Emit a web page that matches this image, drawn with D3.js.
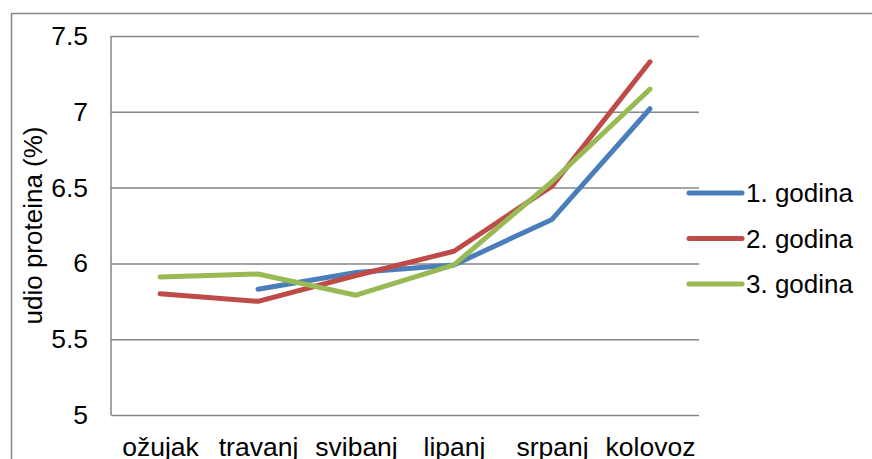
<!DOCTYPE html>
<html>
<head>
<meta charset="utf-8">
<script src="https://cdn.jsdelivr.net/npm/d3@7"></script>
<style>
  body { margin: 0; background: #fff; }
  svg { display: block; font-family: "Liberation Sans", Arial, sans-serif; }
  .grid line { stroke: #868686; stroke-width: 1.5; }
  .tick text { fill: #000; font-size: 26.5px; }
</style>
</head>
<body>
<div id="chart"></div>
<script>
// months on the x axis
const months = ["ožujak", "travanj", "svibanj", "lipanj", "srpanj", "kolovoz"];
// protein share per year (%), null = no value
const year1 = [null, 5.83, 5.94, 5.99, 6.29, 7.02];
const year2 = [5.80, 5.75, 5.92, 6.08, 6.51, 7.33];
const year3 = [5.91, 5.93, 5.79, 5.99, 6.54, 7.15];
const seriesNames = ["1. godina", "2. godina", "3. godina"];
const yTicks = [5, 5.5, 6, 6.5, 7, 7.5];
const yLabel = "udio proteina (%)";

const colors = ["#4A7EBB", "#BE4B48", "#98B954"];
const series = [year1, year2, year3];

const W = 872, H = 459;
const plot = { left: 111, right: 699, top: 36, bottom: 415 };

const svg = d3.select("#chart").append("svg")
  .attr("width", W)
  .attr("height", H);

// outer chart frame (runs off the picture on right and bottom)
svg.append("rect")
  .attr("x", 11.5).attr("y", 13.5)
  .attr("width", 900).attr("height", 500)
  .attr("fill", "none")
  .attr("stroke", "#868686")
  .attr("stroke-width", 1.5);

const x = d3.scalePoint()
  .domain(months)
  .range([plot.left, plot.right])
  .padding(0.5);

const y = d3.scaleLinear()
  .domain([5, 7.5])
  .range([plot.bottom, plot.top]);

// y axis + gridlines
const yAxis = svg.append("g")
  .attr("class", "grid")
  .attr("transform", "translate(" + plot.left + ",0)")
  .call(d3.axisLeft(y)
    .tickValues(yTicks)
    .tickFormat(d => String(d))
    .tickSizeInner(-(plot.right - plot.left))
    .tickSizeOuter(0)
    .tickPadding(23));
yAxis.select(".domain").remove();

// left axis line
svg.append("line")
  .attr("x1", plot.left).attr("x2", plot.left)
  .attr("y1", plot.top).attr("y2", plot.bottom)
  .attr("stroke", "#868686")
  .attr("stroke-width", 1.5);

// x axis labels
const xAxis = svg.append("g")
  .attr("transform", "translate(0," + plot.bottom + ")")
  .call(d3.axisBottom(x).tickSize(0).tickPadding(22));
xAxis.select(".domain").remove();

// y axis title
svg.append("text")
  .attr("transform", "translate(42," + (plot.top + plot.bottom) / 2 + ") rotate(-90)")
  .attr("text-anchor", "middle")
  .attr("font-size", "26px")
  .text(yLabel);

// lines
const line = d3.line()
  .defined(d => d.v != null)
  .x(d => x(d.m))
  .y(d => y(d.v));

series.forEach((vals, i) => {
  const pts = months.map((m, j) => ({ m: m, v: vals[j] }));
  svg.append("path")
    .datum(pts)
    .attr("d", line)
    .attr("fill", "none")
    .attr("stroke", colors[i])
    .attr("stroke-width", 5)
    .attr("stroke-linecap", "round")
    .attr("stroke-linejoin", "round");
});

// legend
const legend = svg.append("g").attr("transform", "translate(689,193)");
seriesNames.forEach((name, i) => {
  const g = legend.append("g").attr("transform", "translate(0," + i * 45.5 + ")");
  g.append("line")
    .attr("x1", 0).attr("x2", 53)
    .attr("stroke", colors[i])
    .attr("stroke-width", 5)
    .attr("stroke-linecap", "round");
  g.append("text")
    .attr("x", 57)
    .attr("dy", "0.35em")
    .attr("font-size", "26px")
    .text(name);
});
</script>
</body>
</html>
